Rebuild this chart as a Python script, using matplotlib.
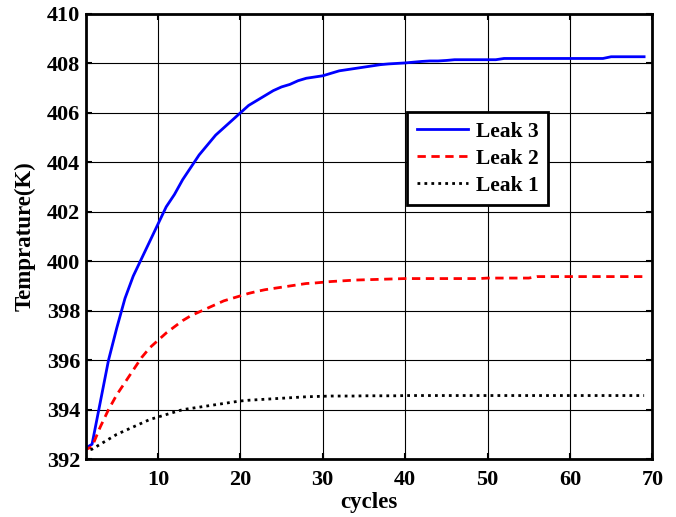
import numpy as np
import matplotlib
matplotlib.use("Agg")
import matplotlib.pyplot as plt

cycles = np.arange(1, 70)

leak3 = [392.4, 392.6, 394.3, 396.0, 397.3, 398.5, 399.4, 400.1, 400.8, 401.5,
         402.2, 402.7, 403.3, 403.8, 404.3, 404.7, 405.1, 405.4, 405.7, 406.0,
         406.3, 406.5, 406.7, 406.9, 407.05, 407.15, 407.3, 407.4, 407.45, 407.5,
         407.6, 407.7, 407.75, 407.8, 407.85, 407.9, 407.95, 407.98, 408.0, 408.02,
         408.05, 408.08, 408.1, 408.1, 408.12, 408.15, 408.15, 408.15, 408.15, 408.15,
         408.15, 408.2, 408.2, 408.2, 408.2, 408.2, 408.2, 408.2, 408.2, 408.2,
         408.2, 408.2, 408.2, 408.2, 408.27, 408.27, 408.27, 408.27, 408.27]

leak2 = [392.35, 392.5, 393.3, 394.0, 394.6, 395.1, 395.6, 396.1, 396.5, 396.8,
         397.1, 397.35, 397.6, 397.8, 397.95, 398.1, 398.25, 398.4, 398.5, 398.6,
         398.7, 398.78, 398.85, 398.9, 398.95, 399.0, 399.05, 399.1, 399.12, 399.15,
         399.18, 399.2, 399.22, 399.24, 399.25, 399.26, 399.27, 399.28, 399.29, 399.3,
         399.3, 399.3, 399.3, 399.3, 399.3, 399.3, 399.3, 399.3, 399.3, 399.32,
         399.32, 399.32, 399.32, 399.32, 399.32, 399.38, 399.38, 399.38, 399.38, 399.38,
         399.38, 399.38, 399.38, 399.38, 399.38, 399.38, 399.38, 399.38, 399.38]

leak1 = [392.3, 392.4, 392.6, 392.8, 393.0, 393.15, 393.3, 393.45, 393.6, 393.7,
         393.8, 393.9, 394.0, 394.05, 394.1, 394.15, 394.2, 394.25, 394.3, 394.35,
         394.38, 394.4, 394.42, 394.44, 394.46, 394.48, 394.5, 394.52, 394.53, 394.54,
         394.55, 394.55, 394.55, 394.55, 394.56, 394.56, 394.56, 394.56, 394.56, 394.57,
         394.57, 394.57, 394.57, 394.57, 394.57, 394.57, 394.57, 394.57, 394.57, 394.57,
         394.57, 394.57, 394.57, 394.57, 394.57, 394.57, 394.57, 394.57, 394.57, 394.57,
         394.57, 394.57, 394.57, 394.57, 394.57, 394.57, 394.57, 394.57, 394.57]

plt.rcParams["font.family"] = "Liberation Serif"
plt.rcParams["font.weight"] = "bold"

fig = plt.figure(figsize=(6.76, 5.17), dpi=100)
ax = fig.add_axes([0.127, 0.112, 0.838, 0.861])

ax.plot(cycles, leak3, color="blue", lw=2, label="Leak 3")
ax.plot(cycles, leak2, color="red", lw=2, ls=(0, (3, 2)), label="Leak 2")
ax.plot(cycles, leak1, color="black", lw=2, ls=(0, (1, 1.5)), label="Leak 1")

ax.set_xlim(1.25, 70)
ax.set_ylim(392, 410)
ax.set_xticks([10, 20, 30, 40, 50, 60, 70])
ax.set_yticks(np.arange(392, 411, 2))
ax.grid(True, color="black", lw=0.8, ls="-")
ax.tick_params(direction="in", top=True, right=True, labelsize=16, width=1.5, length=4)
ax.tick_params(axis="x", pad=8)
ax.tick_params(axis="y", pad=4)
for sp in ax.spines.values():
    sp.set_linewidth(2)

ax.set_xlabel("cycles", fontsize=16.5, fontweight="bold", labelpad=1)
ax.set_ylabel("Temprature(K)", fontsize=16.5, fontweight="bold", labelpad=8)

leg = ax.legend(loc="upper left", bbox_to_anchor=(0.567, 0.78), fontsize=15.5,
                fancybox=False, framealpha=1, edgecolor="black",
                handlelength=2.4, handletextpad=0.35, borderpad=0.45,
                labelspacing=0.32, borderaxespad=0)
leg.get_frame().set_linewidth(2)

fig.savefig("out.png", dpi=100)
